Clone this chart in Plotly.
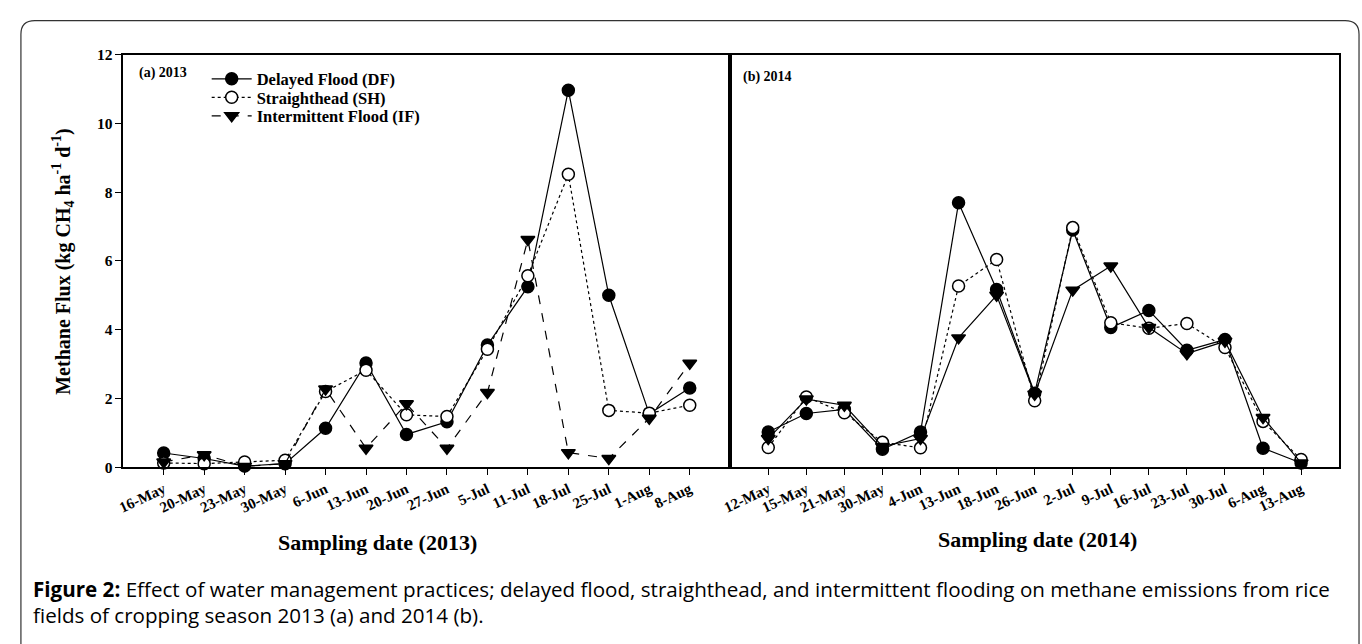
import plotly.graph_objects as go

dates_2013 = ["16-May", "20-May", "23-May", "30-May", "6-Jun", "13-Jun", "20-Jun", "27-Jun",
              "5-Jul", "11-Jul", "18-Jul", "25-Jul", "1-Aug", "8-Aug"]
df_2013 = [0.41, 0.25, 0.03, 0.10, 1.13, 3.03, 0.95, 1.32, 3.55, 5.25, 10.97, 5.00, 1.55, 2.30]
sh_2013 = [0.12, 0.10, 0.15, 0.20, 2.20, 2.82, 1.52, 1.47, 3.43, 5.57, 8.52, 1.65, 1.57, 1.80]
if_2013 = [0.15, 0.36, 0.02, 0.10, 2.27, 0.55, 1.84, 0.55, 2.17, 6.62, 0.42, 0.25, 1.42, 3.02]

dates_2014 = ["12-May", "15-May", "21-May", "30-May", "4-Jun", "13-Jun", "18-Jun", "26-Jun",
              "2-Jul", "9-Jul", "16-Jul", "23-Jul", "30-Jul", "6-Aug", "13-Aug"]
df_2014 = [1.02, 1.56, 1.68, 0.52, 1.02, 7.69, 5.17, 2.15, 6.90, 4.06, 4.56, 3.40, 3.71, 0.55, 0.12]
sh_2014 = [0.57, 2.04, 1.58, 0.72, 0.56, 5.27, 6.04, 1.93, 6.97, 4.20, 4.04, 4.18, 3.48, 1.33, 0.22]
if_2014 = [0.83, 1.98, 1.80, 0.60, 0.83, 3.76, 5.00, 2.12, 5.15, 5.85, 4.06, 3.30, 3.66, 1.44, 0.12]

y_ticks = [0, 2, 4, 6, 8, 10, 12]

W, H = 1362, 644
def px(x):
    return x / W
def py(y):
    return 1 - y / H

SERIF = "Liberation Serif, Times New Roman, serif"
SANS = "Open Sans, sans-serif"
black = "black"

fig = go.Figure()

def add_series(x, y, name, xa, ya, dash, sym, fill, legend, show):
    fig.add_trace(go.Scatter(
        x=x, y=y, name=name, mode="lines+markers", xaxis=xa, yaxis=ya,
        line=dict(color=black, width=1.2, dash=dash),
        marker=dict(symbol=sym, size=12, color=fill, line=dict(color=black, width=1.5)),
        showlegend=show, legend=legend, cliponaxis=False,
    ))

add_series(dates_2013, df_2013, "Delayed Flood (DF)", "x", "y", "solid", "circle", black, "legend", True)
add_series(dates_2013, sh_2013, "Straighthead (SH)", "x", "y", "dot", "circle", "white", "legend2", True)
add_series(dates_2013, if_2013, "Intermittent Flood (IF)", "x", "y", "dash", "triangle-down", black, "legend3", True)

add_series(dates_2014, df_2014, "Delayed Flood (DF)", "x2", "y2", "solid", "circle", black, "legend", False)
add_series(dates_2014, sh_2014, "Straighthead (SH)", "x2", "y2", "dot", "circle", "white", "legend2", False)
add_series(dates_2014, if_2014, "Intermittent Flood (IF)", "x2", "y2", "solid", "triangle-down", black, "legend3", False)

ydom = [py(470.5), py(47)]
tickfont = dict(family=SERIF, size=15, color=black, weight="bold")

common_x = dict(type="category", showline=True, linecolor=black, linewidth=1.5, mirror=True,
                ticks="outside", ticklen=6, tickcolor=black, tickwidth=1, tickangle=-25,
                tickfont=tickfont, showgrid=False, zeroline=False)

def leg(yc):
    return dict(x=px(199), y=py(yc), xanchor="left", yanchor="middle", bgcolor="rgba(0,0,0,0)",
                font=dict(family=SERIF, size=16.5, color=black, weight="bold"),
                itemwidth=40, borderwidth=0)

fig.update_layout(
    width=W, height=H, margin=dict(l=0, r=0, t=0, b=0),
    paper_bgcolor="white", plot_bgcolor="white",
    xaxis=dict(domain=[px(115), px(726)], range=[-1, 14], anchor="y", **common_x),
    xaxis2=dict(domain=[px(726), px(1339)], range=[-1, 15], anchor="y2", **common_x),
    yaxis=dict(domain=ydom, range=[0, 12], tickvals=y_ticks, showline=True, linecolor=black,
               linewidth=1.5, mirror=True, ticks="outside", ticklen=6, tickcolor=black,
               tickfont=dict(family=SERIF, size=15.5, color=black, weight="bold"),
               showgrid=False, zeroline=False, anchor="x"),
    yaxis2=dict(domain=ydom, range=[0, 12], showline=True, linecolor=black, linewidth=1.5,
                mirror=True, showticklabels=False, ticks="", showgrid=False, zeroline=False,
                anchor="x2"),
    legend=leg(72), legend2=leg(91), legend3=leg(110),
    showlegend=True,
)

ann = [
    dict(x=px(129), y=py(66), text="<b>(a) 2013</b>", font=dict(family=SERIF, size=14)),
    dict(x=px(737), y=py(70), text="<b>(b) 2014</b>", font=dict(family=SERIF, size=14)),
    dict(x=px(371), y=py(548), text="<b>Sampling date (2013)</b>", xanchor="center",
         font=dict(family=SERIF, size=22)),
    dict(x=px(1035), y=py(545), text="<b>Sampling date (2014)</b>", xanchor="center",
         font=dict(family=SERIF, size=22)),
    dict(x=px(55), y=py(260), text="<b>Methane Flux (kg CH<sub>4</sub> ha<sup>-1</sup> d<sup>-1</sup>)</b>",
         textangle=-90, xanchor="center", yanchor="middle", font=dict(family=SERIF, size=20)),
    dict(x=px(22), y=py(596),
         text="<b>Figure 2:</b> Effect of water management practices; delayed flood, straighthead, and intermittent flooding on methane emissions from rice",
         font=dict(family=SANS, size=20.6)),
    dict(x=px(22), y=py(622), text="fields of cropping season 2013 (a) and 2014 (b).",
         font=dict(family=SANS, size=20.6)),
]
for a in ann:
    a.setdefault("xanchor", "left")
    a.setdefault("yanchor", "middle")
    a["xref"] = "paper"
    a["yref"] = "paper"
    a["showarrow"] = False
    a["font"]["color"] = black
    fig.add_annotation(**a)

# rounded outer frame
r = 14
x0, y0, x1, y1 = 12, 12, 1359, 700
path = (f"M {px(x0)},{py(y1)} L {px(x0)},{py(y0 + r)} Q {px(x0)},{py(y0)} {px(x0 + r)},{py(y0)} "
        f"L {px(x1 - r)},{py(y0)} Q {px(x1)},{py(y0)} {px(x1)},{py(y0 + r)} L {px(x1)},{py(y1)}")
fig.add_shape(type="path", path=path, xref="paper", yref="paper",
              line=dict(color="#333333", width=1.2), layer="below")

post = ("document.documentElement.style.margin='0';document.body.style.margin='0';"
        "var d=document.querySelector('.plotly-graph-div');"
        "d.style.position='fixed';d.style.left='0px';d.style.top='0px';")
fig.write_html("out.html", config={"displayModeBar": False}, post_script=post)
